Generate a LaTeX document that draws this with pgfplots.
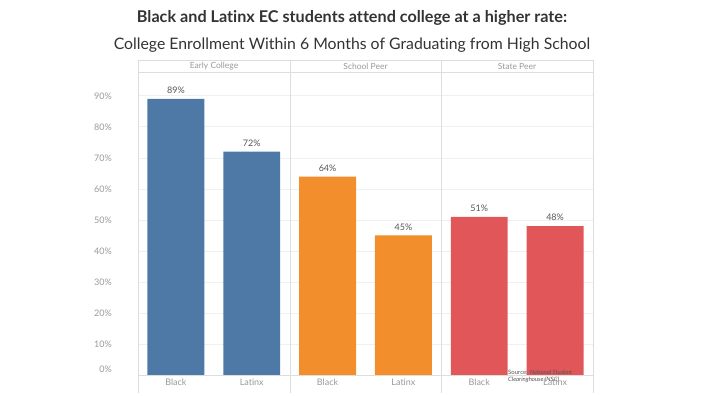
\documentclass[border=0pt]{standalone}
\usepackage{fontspec}
\setmainfont{Lato}[Ligatures={NoCommon}]
\usepackage{pgfplots}
\pgfplotsset{compat=1.18}
\definecolor{ecblue}{HTML}{4E79A7}
\definecolor{ecorange}{HTML}{F28E2B}
\definecolor{ecred}{HTML}{E15759}
\definecolor{sepgray}{HTML}{DDDDDD}
\definecolor{gridgray}{HTML}{F0F0F0}
\definecolor{labgray}{HTML}{999999}
\definecolor{valgray}{HTML}{555555}
\begin{document}
\begin{tikzpicture}[x=1pt,y=1pt]
\path[use as bounding box] (-138,-21) rectangle (566,375);
\begin{axis}[
  at={(0,0)}, anchor=south west,
  scale only axis, width=455pt, height=303pt,
  xmin=-0.5, xmax=5.5, ymin=0, ymax=97.7,
  axis line style={draw=none},
  major tick length=0pt,
  ytick={10,20,...,90},
  extra y ticks={0},
  extra y tick style={yticklabel style={yshift=6pt}, grid=none},
  ymajorgrids, grid style={gridgray, line width=0.8pt},
  yticklabel={\pgfmathprintnumber{\tick}\%},
  yticklabel style={font=\fontsize{9}{10}\selectfont, text=labgray, inner sep=0pt, xshift=-26pt, anchor=east},
  xtick={0,1,2,3,4,5},
  xticklabels={Black,Latinx,Black,Latinx,Black,Latinx},
  xticklabel style={font=\fontsize{9}{10}\selectfont, text=labgray, inner sep=0pt, yshift=-4pt},
  /pgf/number format/assume math mode=true,
  nodes near coords={\pgfmathprintnumber{\pgfplotspointmeta}\%},
  every node near coord/.append style={font=\fontsize{9}{10}\selectfont, text=valgray, inner sep=0pt, yshift=5pt, anchor=south},
]
\addplot[ybar, bar width=0.75, bar shift=0pt, fill=ecblue, draw=none] coordinates {(0,89) (1,72)};
\addplot[ybar, bar width=0.75, bar shift=0pt, fill=ecorange, draw=none] coordinates {(2,64) (3,45)};
\addplot[ybar, bar width=0.75, bar shift=0pt, fill=ecred, draw=none] coordinates {(4,51) (5,48)};
\end{axis}
% frame lines
\draw[sepgray, line width=0.8pt] (0,315) -- (455,315);
\draw[sepgray, line width=0.8pt] (0,303) -- (455,303);
\draw[sepgray, line width=0.8pt] (0,0) -- (455,0);
\foreach \xx in {0,152,303,455} {\draw[sepgray, line width=0.8pt] (\xx,315) -- (\xx,-18);}
% header labels
\node[font=\fontsize{8.5}{10}\selectfont, text=labgray] at (76,309) {Early College};
\node[font=\fontsize{8.5}{10}\selectfont, text=labgray] at (227.5,309) {School Peer};
\node[font=\fontsize{8.5}{10}\selectfont, text=labgray] at (379,309) {State Peer};
% titles
\node[font=\bfseries\fontsize{16.2}{18}\selectfont, text=black!80] at (214,357) {Black and Latinx EC students attend college at a higher rate:};
\node[font=\fontsize{15.8}{18}\selectfont, text=black!80] at (214,330) {College Enrollment Within 6 Months of Graduating from High School};
% source
\node[font=\fontsize{6}{7}\selectfont, text=valgray, anchor=west, inner sep=0pt] at (370,3) {Source: \textit{National Student}};
\node[font=\itshape\fontsize{6}{7}\selectfont, text=valgray, anchor=west, inner sep=0pt] at (370,-4.5) {Clearinghouse (NSC)};
\end{tikzpicture}
\end{document}
